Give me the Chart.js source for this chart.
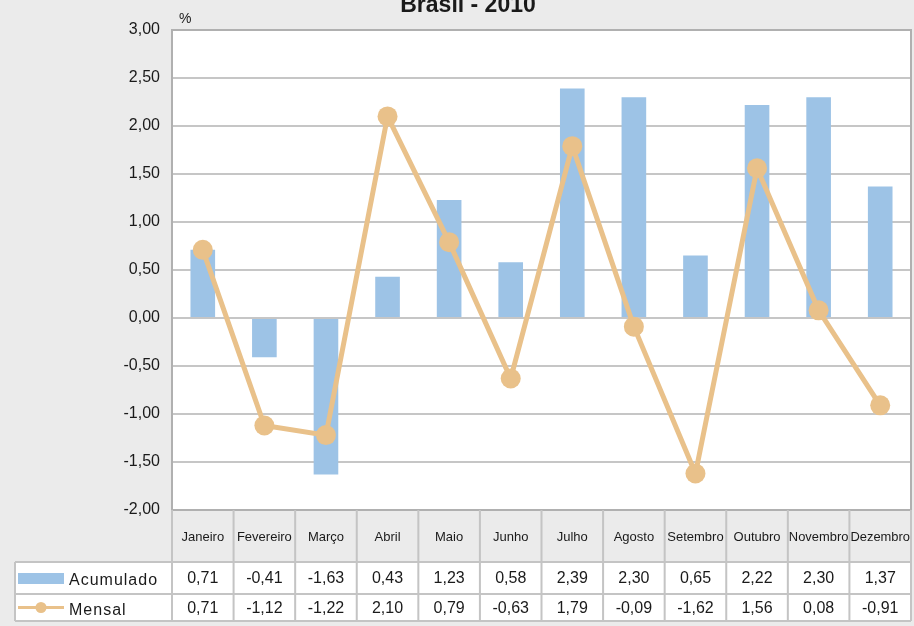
<!DOCTYPE html>
<html>
<head>
<meta charset="utf-8">
<script src="https://cdn.jsdelivr.net/npm/chart.js@4.4.0/dist/chart.umd.min.js"></script>
<style>
  html, body { margin: 0; padding: 0; background: #ebebeb; }
  #wrap { width: 914px; height: 626px; }
</style>
</head>
<body>
<div id="wrap"><canvas id="chart" width="914" height="626"></canvas></div>
<script>
// Chart data
const months = ['Janeiro', 'Fevereiro', 'Março', 'Abril', 'Maio', 'Junho', 'Julho', 'Agosto', 'Setembro', 'Outubro', 'Novembro', 'Dezembro'];
const acumulado = [0.71, -0.41, -1.63, 0.43, 1.23, 0.58, 2.39, 2.30, 0.65, 2.22, 2.30, 1.37];
const mensal = [0.71, -1.12, -1.22, 2.10, 0.79, -0.63, 1.79, -0.09, -1.62, 1.56, 0.08, -0.91];
const chartTitle = 'Brasil - 2010';
const unitLabel = '%';

const barColor = '#9dc3e6';
const lineColor = '#e9c18a';
const gridColor = '#c6c6c6';
const textColor = '#1a1a1a';

function fmt(v) {
    return v.toFixed(2).replace('.', ',');
}

// Draws the page background, white plot area, title and the data table under the chart
const dataTablePlugin = {
    id: 'dataTable',
    beforeDraw(chart) {
        const ctx = chart.ctx;
        const a = chart.chartArea;
        ctx.save();
        ctx.fillStyle = '#ebebeb';
        ctx.fillRect(0, 0, chart.width, chart.height);
        ctx.fillStyle = '#ffffff';
        ctx.fillRect(a.left, a.top, a.right - a.left, a.bottom - a.top);
        ctx.restore();
    },
    afterDraw(chart) {
        const ctx = chart.ctx;
        const a = chart.chartArea;
        const xs = chart.scales.x;
        const colW = (a.right - a.left) / months.length;

        const legendLeft = 15;
        const headTop = a.bottom;
        const row1Top = a.bottom + 52;
        const row2Top = row1Top + 32;
        const tableBottom = row2Top + 27;

        ctx.save();

        // plot border
        ctx.strokeStyle = '#b0b0b0';
        ctx.lineWidth = 2;
        ctx.strokeRect(a.left, a.top, a.right - a.left, a.bottom - a.top);

        // row backgrounds
        ctx.fillStyle = '#ffffff';
        ctx.fillRect(legendLeft, row1Top, a.right - legendLeft, tableBottom - row1Top);

        // table lines
        ctx.strokeStyle = '#c4c4c4';
        ctx.lineWidth = 2;
        ctx.beginPath();
        [row1Top, row2Top, tableBottom].forEach(y => {
            ctx.moveTo(legendLeft, y);
            ctx.lineTo(a.right, y);
        });
        ctx.moveTo(legendLeft, row1Top);
        ctx.lineTo(legendLeft, tableBottom);
        for (let i = 0; i <= months.length; i++) {
            const x = a.left + i * colW;
            ctx.moveTo(x, headTop);
            ctx.lineTo(x, tableBottom);
        }
        ctx.stroke();

        // category labels and values
        ctx.fillStyle = textColor;
        ctx.textAlign = 'center';
        ctx.textBaseline = 'middle';
        months.forEach((m, i) => {
            const cx = xs.getPixelForValue(i);
            ctx.font = '13px "Liberation Sans", Arial, sans-serif';
            ctx.fillText(m, cx, (headTop + row1Top) / 2 + 1, colW - 2);
            ctx.font = '16px "Liberation Sans", Arial, sans-serif';
            ctx.fillText(fmt(acumulado[i]), cx, (row1Top + row2Top) / 2 + 1);
            ctx.fillText(fmt(mensal[i]), cx, (row2Top + tableBottom) / 2 + 1);
        });

        // legend keys
        const y1 = (row1Top + row2Top) / 2;
        const y2 = (row2Top + tableBottom) / 2;
        ctx.fillStyle = barColor;
        ctx.fillRect(18, y1 - 5, 46, 11);
        ctx.strokeStyle = lineColor;
        ctx.lineWidth = 3;
        ctx.beginPath();
        ctx.moveTo(18, y2);
        ctx.lineTo(64, y2);
        ctx.stroke();
        ctx.fillStyle = lineColor;
        ctx.beginPath();
        ctx.arc(41, y2, 5.5, 0, Math.PI * 2);
        ctx.fill();

        ctx.fillStyle = textColor;
        ctx.textAlign = 'left';
        ctx.font = '16px "Liberation Sans", Arial, sans-serif';
        ctx.letterSpacing = '1px';
        ctx.fillText('Acumulado', 69, y1 + 3);
        ctx.fillText('Mensal', 69, y2 + 3);
        ctx.letterSpacing = '0px';

        // title and unit
        ctx.textAlign = 'center';
        ctx.textBaseline = 'alphabetic';
        ctx.font = 'bold 23px "Liberation Sans", Arial, sans-serif';
        ctx.fillText(chartTitle, 468, 12);
        ctx.textAlign = 'left';
        ctx.font = '14px "Liberation Sans", Arial, sans-serif';
        ctx.fillText(unitLabel, 179, 23);

        ctx.restore();
    }
};

document.addEventListener('DOMContentLoaded', function() {
    const ctx = document.getElementById('chart').getContext('2d');
    new Chart(ctx, {
        type: 'bar',
        data: {
            labels: months,
            datasets: [{
                type: 'line',
                label: 'Mensal',
                data: mensal,
                borderColor: lineColor,
                backgroundColor: lineColor,
                borderWidth: 5,
                pointRadius: 10,
                pointBackgroundColor: lineColor,
                pointBorderWidth: 0,
                tension: 0,
                order: 0
            }, {
                type: 'bar',
                label: 'Acumulado',
                data: acumulado,
                backgroundColor: barColor,
                borderWidth: 0,
                barPercentage: 0.8,
                categoryPercentage: 0.5,
                order: 1
            }]
        },
        options: {
            responsive: false,
            animation: false,
            layout: {
                autoPadding: false,
                padding: { left: 0, right: 3, top: 30, bottom: 116 }
            },
            scales: {
                x: {
                    display: false
                },
                y: {
                    min: -2,
                    max: 3,
                    afterFit: function(scale) {
                        scale.width = 172;
                    },
                    ticks: {
                        stepSize: 0.5,
                        padding: 12,
                        color: textColor,
                        font: { family: '"Liberation Sans", Arial, sans-serif', size: 16 },
                        callback: function(v) { return fmt(v); }
                    },
                    grid: {
                        color: gridColor,
                        lineWidth: 2,
                        drawTicks: false
                    },
                    border: {
                        display: false
                    }
                }
            },
            plugins: {
                legend: { display: false },
                title: { display: false },
                tooltip: { enabled: false }
            }
        },
        plugins: [dataTablePlugin]
    });
});
</script>
</body>
</html>
